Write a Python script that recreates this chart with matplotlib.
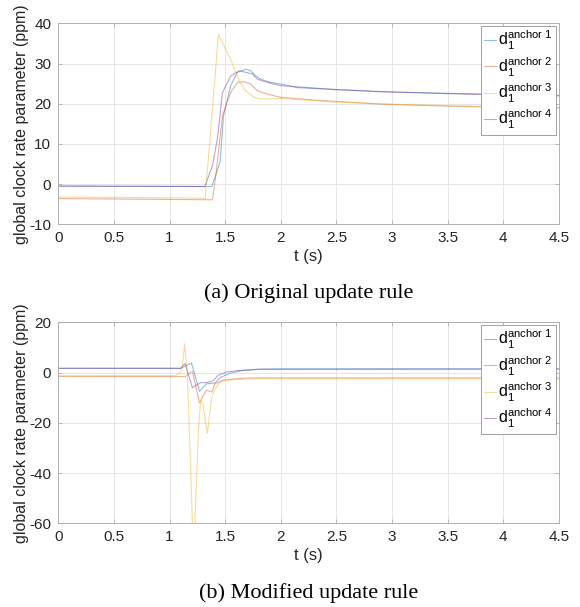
import matplotlib
matplotlib.use("Agg")
import matplotlib.pyplot as plt

# ── data ──────────────────────────────────────────────────────────────────────
# (a) original update rule
ta_1 = [0, 1.38, 1.455, 1.485, 1.55, 1.61, 1.686, 1.73, 1.776, 1.82, 1.91, 2.0, 2.15, 2.45, 2.9, 3.5, 4.0, 4.5]
va_1 = [-0.5, -0.6, 5.5, 17, 24.5, 27.8, 28.6, 28.2, 26.9, 26.1, 25.3, 24.9, 24.0, 23.6, 23.0, 22.6, 22.3, 22.0]
ta_2 = [0, 1.386, 1.416, 1.476, 1.55, 1.61, 1.67, 1.73, 1.79, 1.88, 2.0, 2.3, 2.9, 3.5, 4.0, 4.5]
va_2 = [-3.6, -3.9, 2.1, 17, 22.8, 25.3, 25.5, 24.9, 23.2, 22.4, 21.6, 20.9, 19.9, 19.4, 19.1, 18.9]
ta_3 = [0, 1.30, 1.32, 1.44, 1.55, 1.626, 1.686, 1.76, 1.82, 2.0, 2.5, 3.0, 3.5, 4.0, 4.5]
va_3 = [-3.2, -3.5, -3.6, 37.3, 31.0, 25.7, 23.2, 21.6, 21.2, 21.3, 20.4, 19.9, 19.5, 19.3, 19.1]
ta_4 = [0, 1.317, 1.386, 1.43, 1.476, 1.55, 1.626, 1.686, 1.746, 1.79, 1.88, 2.0, 2.5, 3.0, 3.5, 4.0, 4.5]
va_4 = [-0.5, -0.6, 4.6, 11.2, 22.8, 26.9, 28.2, 27.8, 27.4, 26.1, 25.3, 24.5, 23.5, 22.9, 22.5, 22.2, 22.0]

# (b) modified update rule
tb_1 = [0, 1.10, 1.197, 1.27, 1.33, 1.41, 1.455, 1.545, 1.67, 1.82, 2.0, 4.5]
vb_1 = [1.7, 1.7, 3.8, -7.5, -4.5, -4.1, -2.0, -0.2, 0.9, 1.4, 1.5, 1.5]
tb_2 = [0, 1.14, 1.206, 1.27, 1.33, 1.38, 1.41, 1.485, 1.6, 1.73, 4.5]
vb_2 = [-1.5, -1.6, 0.5, -12, -7, -7.7, -4.4, -3.0, -2.4, -2.1, -2.1]
tb_3 = [0, 1.05, 1.09, 1.115, 1.136, 1.16, 1.19, 1.206, 1.227, 1.26, 1.28, 1.30, 1.34, 1.38, 1.41, 1.455, 1.58, 1.8, 4.5]
vb_3 = [-1.3, -1.2, -0.4, 2.2, 11.5, -0.4, -37.5, -61, -61, -23, -11, -12.3, -24.2, -9.7, -6.4, -3.7, -2.8, -2.5, -2.5]
tb_4 = [0, 1.10, 1.14, 1.206, 1.24, 1.28, 1.33, 1.39, 1.44, 1.515, 1.64, 1.8, 4.5]
vb_4 = [1.7, 1.7, 3.6, -6, -5, -4, -4, -3.3, -1, 0.3, 0.9, 1.3, 1.4]

labels = [r"$\mathregular{d_1^{anchor\ %d}}$" % i for i in range(1, 5)]
colors = ["#0072BD", "#D95319", "#EDB120", "#7E2F8E"]   # MATLAB default order

plt.rcParams["font.family"] = ["Liberation Sans", "DejaVu Sans"]
plt.rcParams["mathtext.fontset"] = "custom"
plt.rcParams["mathtext.rm"] = "Liberation Sans"
plt.rcParams["axes.unicode_minus"] = False

fig = plt.figure(figsize=(5.8, 6.07), dpi=100)
ax_a = fig.add_axes([0.1005, 0.6305, 0.863, 0.331])
ax_b = fig.add_axes([0.1005, 0.1379, 0.863, 0.331])

panels = [
    (ax_a, [(ta_1, va_1), (ta_2, va_2), (ta_3, va_3), (ta_4, va_4)],
     (-10, 40), [-10, 0, 10, 20, 30, 40], "(a) Original update rule"),
    (ax_b, [(tb_1, vb_1), (tb_2, vb_2), (tb_3, vb_3), (tb_4, vb_4)],
     (-60, 20), [-60, -40, -20, 0, 20], "(b) Modified update rule"),
]

for ax, series, ylim, yticks, caption in panels:
    for (t, v), c, lab in zip(series, colors, labels):
        ax.plot(t, v, color=c, lw=0.8, alpha=0.45, label=lab)
    ax.set_xlim(0, 4.5)
    ax.set_ylim(*ylim)
    ax.set_xticks([0, 0.5, 1, 1.5, 2, 2.5, 3, 3.5, 4, 4.5])
    ax.set_xticklabels(["0", "0.5", "1", "1.5", "2", "2.5", "3", "3.5", "4", "4.5"])
    ax.set_yticks(yticks)
    ax.grid(True, color="#e6e6e6", lw=0.7)
    ax.set_axisbelow(True)
    for s in ax.spines.values():
        s.set_color("#b0b0b0")
        s.set_linewidth(0.7)
    ax.tick_params(direction="in", length=3, width=0.6, color="#b0b0b0",
                   labelcolor="#262626", labelsize=11, top=True, right=True, pad=5)
    ax.set_xlabel("t (s)", fontsize=12, color="#262626", labelpad=3)
    ax.set_ylabel("global clock rate parameter (ppm)", fontsize=11.5,
                  color="#262626", labelpad=0)
    leg = ax.legend(loc="upper right", fontsize=11.5, handlelength=0.75,
                    handletextpad=0.15, labelspacing=0.2, borderpad=0.2,
                    borderaxespad=0.15, fancybox=False, framealpha=1)
    leg.get_frame().set_edgecolor("#a0a0a0")
    leg.get_frame().set_linewidth(0.7)
    for h in leg.get_lines():
        h.set_alpha(0.45)
    ax.text(0.5, -0.345, caption, transform=ax.transAxes, ha="center", va="center",
            fontsize=16, family=["Liberation Serif", "DejaVu Serif"])

fig.savefig("out.png", dpi=100)
